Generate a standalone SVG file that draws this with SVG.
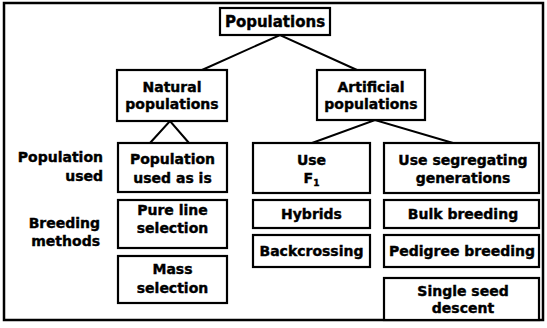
<svg xmlns="http://www.w3.org/2000/svg" width="547" height="328" viewBox="0 0 547 328">
<style>
.box{fill:#fff;stroke:#000;stroke-width:2.2}
.frame{fill:#fff;stroke:#000;stroke-width:2.5}
.t{font-family:"DejaVu Sans",sans-serif;font-weight:bold;font-size:14px;fill:#000;stroke:#000;stroke-width:0.4;text-anchor:middle}
.l{font-family:"DejaVu Sans",sans-serif;font-weight:bold;font-size:14px;fill:#000;stroke:#000;stroke-width:0.4;text-anchor:end}
.c{stroke:#000;stroke-width:2;fill:none}
</style>
<rect class="frame" x="4" y="3" width="539" height="317"/>
<g id="connectors">
<path class="c" d="M202,70 L280,35 L357,70"/>
<path class="c" d="M150,143 L170,121 L189,143"/>
<path class="c" d="M312,143 L375,120 L453,143"/>
</g>
<g id="populations"><rect class="box" x="220" y="8" width="110" height="27"/><text class="t" x="275" y="27" style="font-size:15px">Populations</text></g>
<g id="natural"><rect class="box" x="117" y="70" width="110" height="51"/><text class="t" x="172" y="92">Natural</text><text class="t" x="172" y="109">populations</text></g>
<g id="artificial"><rect class="box" x="317" y="70" width="108" height="50"/><text class="t" x="371" y="92">Artificial</text><text class="t" x="371" y="109">populations</text></g>
<g id="label-used"><text class="l" x="103" y="162">Population</text><text class="l" x="103" y="181">used</text></g>
<g id="label-methods"><text class="l" x="100" y="228">Breeding</text><text class="l" x="100" y="246">methods</text></g>
<g id="used-as-is"><rect class="box" x="118" y="143" width="109" height="49"/><text class="t" x="172.5" y="164">Population</text><text class="t" x="172.5" y="183">used as is</text></g>
<g id="pure-line"><rect class="box" x="118" y="200" width="109" height="48"/><text class="t" x="172.5" y="215">Pure line</text><text class="t" x="172.5" y="233">selection</text></g>
<g id="mass"><rect class="box" x="118" y="256" width="109" height="47"/><text class="t" x="172.5" y="274">Mass</text><text class="t" x="172.5" y="293">selection</text></g>
<g id="use-f1"><rect class="box" x="253" y="143" width="117" height="50"/><text class="t" x="311.5" y="165">Use</text><text class="t" x="311.5" y="183">F<tspan font-size="9" dy="3">1</tspan></text></g>
<g id="hybrids"><rect class="box" x="253" y="200" width="117" height="28"/><text class="t" x="311.5" y="219">Hybrids</text></g>
<g id="backcrossing"><rect class="box" x="253" y="235" width="117" height="32"/><text class="t" x="311.5" y="256">Backcrossing</text></g>
<g id="use-segregating"><rect class="box" x="384" y="143" width="155" height="50"/><text class="t" x="463" y="165">Use segregating</text><text class="t" x="463" y="183">generations</text></g>
<g id="bulk"><rect class="box" x="384" y="200" width="155" height="28"/><text class="t" x="463" y="219">Bulk breeding</text></g>
<g id="pedigree"><rect class="box" x="384" y="235" width="155" height="32"/><text class="t" x="462" y="256">Pedigree breeding</text></g>
<g id="ssd"><rect class="box" x="384" y="278" width="155" height="42"/><text class="t" x="463" y="296">Single seed</text><text class="t" x="463" y="313">descent</text></g>
</svg>
